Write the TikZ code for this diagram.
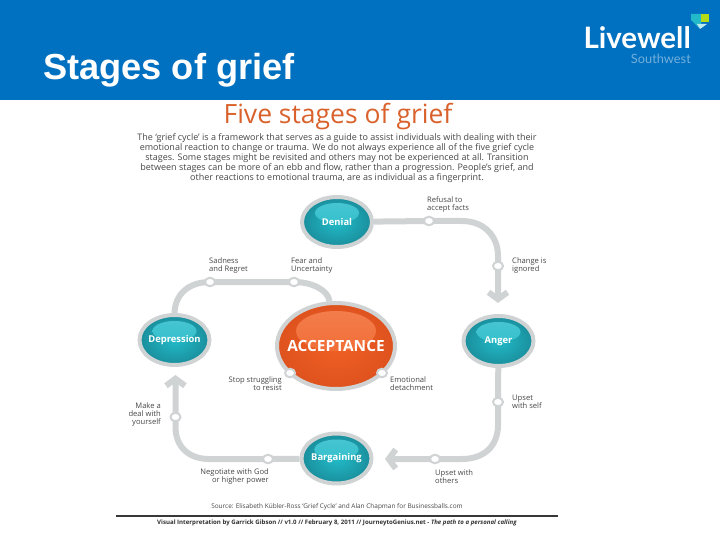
\documentclass[tikz,border=0pt]{standalone}
\usepackage{fontspec}
\setmainfont{Open Sans}
\newfontfamily\arialfont{Liberation Sans}
\newfontfamily\logofont{Lato}
\usetikzlibrary{shapes.geometric,arrows.meta,backgrounds}
\definecolor{headblue}{RGB}{0,112,192}
\definecolor{trackgray}{RGB}{208,211,212}
\definecolor{tealdark}{RGB}{26,142,156}
\definecolor{teallight}{RGB}{34,186,200}
\definecolor{orangedark}{RGB}{222,82,30}
\definecolor{orangelight}{RGB}{240,96,36}
\definecolor{labelgray}{RGB}{70,70,70}
\definecolor{titleorange}{RGB}{217,98,44}
\tikzset{
  stage/.style={ellipse, draw=trackgray, line width=4pt, minimum width=70pt, minimum height=50pt,
    inner xsep=-6pt, inner ysep=0pt, inner color=teallight, outer color=tealdark, text=white, font=\fontsize{9.4}{10}\selectfont\bfseries,
    path picture={\shade[top color=white!18!teallight, bottom color=teallight]
      ([yshift=9pt]path picture bounding box.center) ellipse (22pt and 10pt);}},
  bigstage/.style={stage, minimum width=118pt, minimum height=86pt, inner xsep=-12pt, inner color=orangelight, outer color=orangedark,
    font=\fontsize{15.4}{17}\selectfont\bfseries,
    path picture={\shade[top color=white!20!orangelight, bottom color=orangelight]
      ([yshift=15pt]path picture bounding box.center) ellipse (40pt and 20pt);}},
  dot/.style={ellipse, draw=trackgray, fill=white, line width=2pt, minimum width=10pt, minimum height=8.5pt, inner sep=0pt},
  track/.style={draw=trackgray, line width=6pt},
  tip/.style={-{Straight Barb[length=7pt,width=19pt]}},
  note/.style={text=labelgray, font=\fontsize{7.6}{8}\selectfont, inner sep=0pt},
}
\begin{document}
\begin{tikzpicture}[x=1pt,y=-1pt]
  \useasboundingbox (0,0) rectangle (720,540);
  \fill[headblue] (0,0) rectangle (720,100);
  \node[anchor=base west, inner sep=0pt, text=white, font=\fontsize{36.2}{38}\selectfont\arialfont\bfseries] (slidetitle) at (43,80) {Stages of grief};
  % logo
  \node[anchor=base east, inner sep=0pt, text=white, font=\fontsize{29.5}{30}\selectfont\logofont\bfseries] (livewell) at (691,48.5) {Livewell};
  \node[anchor=base east, inner sep=0pt, text=white!45!headblue, font=\fontsize{12.8}{13}\selectfont\logofont] (southwest) at (691,64) {Southwest};
  \fill[teallight] (691,14) -- (701,14) -- (701,24) -- (699,28) -- (691,20) -- cycle;
  \fill[white!70!teallight] (697,24) -- (707,24) -- (700,29) -- cycle;
  \fill[yellow!70!green] (701,14) rectangle (709,22);

  \node[text=titleorange, inner sep=0pt, font=\fontsize{26.5}{28}\selectfont] (heading) at (338,117) {Five stages of grief};
  \node[align=center, text=labelgray, inner sep=0pt, font=\fontsize{9}{10}\selectfont] (intro) at (337,158.5)
    {The `grief cycle' is a framework that serves as a guide to assist individuals with dealing with their\\
     emotional reaction to change or trauma. We do not always experience all of the five grief cycle\\
     stages. Some stages might be revisited and others may not be experienced at all. Transition\\
     between stages can be more of an ebb and flow, rather than a progression. People's grief, and\\
     other reactions to emotional trauma, are as individual as a fingerprint.};

  \node[stage] (denial) at (337,222) {Denial};
  \node[stage] (anger) at (498.5,341) {Anger};
  \node[stage] (bargaining) at (336.5,458.5) {Bargaining};
  \node[stage] (depression) at (174.5,340) {Depression};
  \node[bigstage] (acceptance) at (336,346) {ACCEPTANCE};

  \node[dot] (refusal) at (429,221) {};
  \node[dot] (ignored) at (498,266) {};
  \node[dot] (selfupset) at (498,402) {};
  \node[dot] (othersupset) at (435,459) {};
  \node[dot] (negotiate) at (268,459) {};
  \node[dot] (deal) at (175.5,417) {};
  \node[dot] (sadness) at (210,282) {};
  \node[dot] (fear) at (294,282) {};
  \node[dot] (struggling) at (290,373) {};
  \node[dot] (detachment) at (382,373) {};

  \coordinate (angerin) at (498,303);
  \coordinate (bargainin) at (385,459);
  \coordinate (depressionin) at (175.5,375);

  \begin{scope}[on background layer]
    \draw[track,tip] (denial) -- (refusal.center) -- (462,221) .. controls (484,221) and (498,236) .. (498,256) -- (ignored.center) -- (angerin);
    \draw[track,tip] (anger) -- (selfupset.center) -- (498,425) .. controls (498,446) and (484,459) .. (462,459) -- (othersupset.center) -- (bargainin);
    \draw[track,tip] (bargaining) -- (negotiate.center) -- (209,459) .. controls (188,459) and (175.5,446) .. (175.5,427) -- (deal.center) -- (depressionin);
    \draw[track] (depression) -- (174.5,314) .. controls (174.5,295) and (188,282) .. (sadness.center) -- (fear.center) .. controls (312,282) and (328,290) .. (acceptance);
  \end{scope}

  \node[note, align=left, anchor=west] (refusaltext) at (427,204.5) {Refusal to\\accept facts};
  \node[note, align=left, anchor=west] (ignoredtext) at (512,266) {Change is\\ignored};
  \node[note, align=left, anchor=west] (sadnesstext) at (209,266) {Sadness\\and Regret};
  \node[note, align=left, anchor=west] (feartext) at (291,266) {Fear and\\Uncertainty};
  \node[note, align=right, anchor=east] (strugglingtext) at (282,384) {Stop struggling\\to resist};
  \node[note, align=left, anchor=west] (detachmenttext) at (390,384) {Emotional\\detachment};
  \node[note, align=left, anchor=west] (selfupsettext) at (512,401.5) {Upset\\with self};
  \node[note, align=right, anchor=east] (dealtext) at (161,415) {Make a\\deal with\\yourself};
  \node[note, align=right, anchor=east] (negotiatetext) at (269,477) {Negotiate with God\\or higher power};
  \node[note, align=left, anchor=west] (othersupsettext) at (435,477) {Upset with\\others};

  \node[text=labelgray, inner sep=0pt, font=\fontsize{6.45}{7}\selectfont] (source) at (337,507) {Source: Elisabeth K\"ubler-Ross `Grief Cycle' and Alan Chapman for Businessballs.com};
  \draw[labelgray!80!black, line width=1.5pt] (116,516) -- (558,516);
  \node[text=labelgray!70!black, inner sep=0pt, font=\fontsize{6.1}{7}\selectfont\bfseries] (credit) at (337,523) {Visual Interpretation by Garrick Gibson // v1.0 // February 8, 2011 // JourneytoGenius.net - \textit{The path to a personal calling}};
\end{tikzpicture}
\end{document}
